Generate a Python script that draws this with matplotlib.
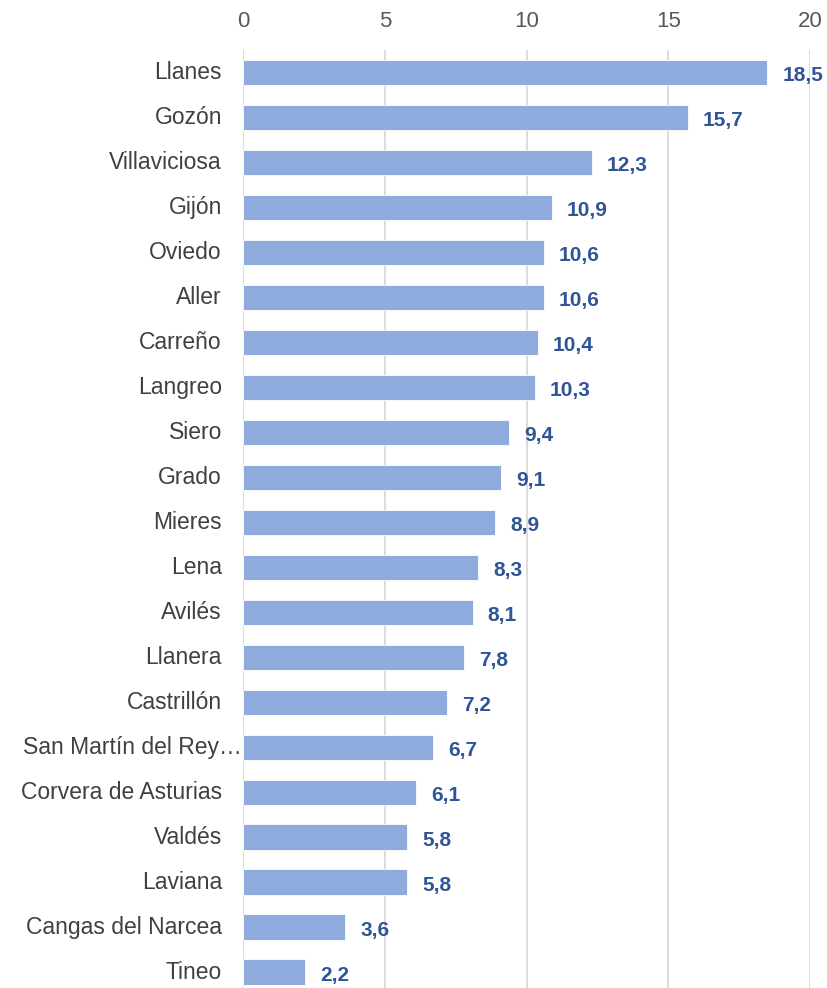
import numpy as np
import matplotlib.pyplot as plt

municipios = ["Llanes", "Gozón", "Villaviciosa", "Gijón", "Oviedo", "Aller",
              "Carreño", "Langreo", "Siero", "Grado", "Mieres", "Lena", "Avilés",
              "Llanera", "Castrillón", "San Martín del Rey…", "Corvera de Asturias",
              "Valdés", "Laviana", "Cangas del Narcea", "Tineo"]
valores = [18.5, 15.7, 12.3, 10.9, 10.6, 10.6, 10.4, 10.3, 9.4, 9.1, 8.9, 8.3,
           8.1, 7.8, 7.2, 6.7, 6.1, 5.8, 5.8, 3.6, 2.2]
ticks_x = [0, 5, 10, 15, 20]

fig = plt.figure(figsize=(8.27, 9.88), dpi=100)
ax = fig.add_axes([243 / 827, -6.5 / 988, 567 / 827, 944.5 / 988])

y = np.arange(len(municipios))
ax.barh(y, valores, height=0.56, color="#8faadc", edgecolor="white",
        linewidth=0.6, zorder=2)

ax.set_xlim(0, 20)
ax.set_ylim(len(municipios) - 0.5, -0.5)
ax.set_xticks(ticks_x)
ax.xaxis.tick_top()
ax.tick_params(axis="x", length=0, pad=13, labelsize=16, labelcolor="#595959")
for lab in ax.get_xticklabels():
    lab.set_family("Liberation Sans")
ax.grid(axis="x", color="#d9d9d9", linewidth=1.3, zorder=0)
ax.set_yticks([])
for s in ax.spines.values():
    s.set_visible(False)

# nombres de municipios a la izquierda del eje
for i, nombre in enumerate(municipios):
    dx = -1 if nombre.endswith("…") else -21
    ax.annotate(nombre, xy=(0, i), xytext=(dx, 0), textcoords="offset pixels",
                ha="right", va="center", fontsize=16.5, color="#404040",
                family="Liberation Sans")

# etiquetas de valor
for i, v in enumerate(valores):
    ax.annotate(f"{v:.1f}".replace(".", ","), xy=(v, i), xytext=(15, -3),
                textcoords="offset pixels", ha="left", va="center",
                fontsize=15, fontweight="bold", color="#2f5597",
                family="Liberation Sans", annotation_clip=False)

fig.savefig("out.png", dpi=100)
